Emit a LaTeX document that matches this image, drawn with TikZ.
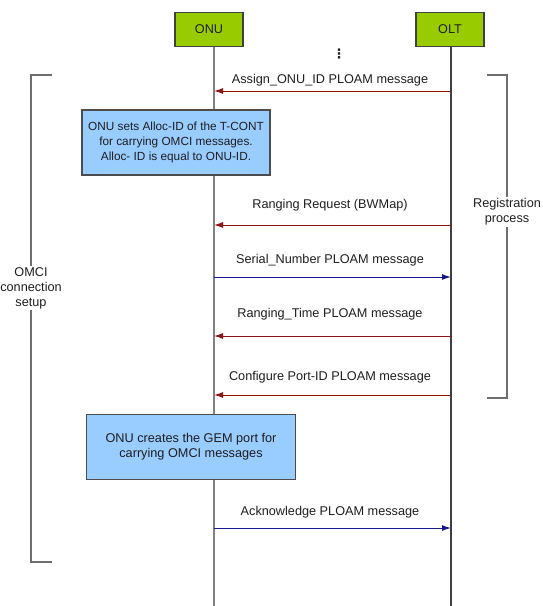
\documentclass[tikz,border=0pt]{standalone}
\usepackage{fontspec}
\setmainfont{Liberation Sans}
\newfontfamily\symfont{DejaVu Sans}
\usetikzlibrary{arrows.meta}
\definecolor{hdrgreen}{RGB}{153,204,0}
\definecolor{notebl}{RGB}{153,204,255}
\definecolor{msgred}{RGB}{140,20,20}
\definecolor{msgblue}{RGB}{25,25,140}
\definecolor{brgray}{RGB}{110,110,110}
\definecolor{txtc}{RGB}{30,30,30}
\tikzset{
  every node/.style={font=\fontsize{12.7}{15}\selectfont, text=txtc},
  hdr/.style={draw=black!75, line width=1.2pt, fill=hdrgreen, minimum width=68pt, minimum height=34pt, inner sep=0pt},
  note/.style={draw=black!70, line width=1.2pt, fill=notebl, align=center, inner sep=0pt},
  life/.style={line width=1.2pt},
  toonu/.style={draw=msgred, line width=1pt, -{Latex[length=9pt,width=6pt]}},
  toolt/.style={draw=msgblue, line width=1pt, -{Latex[length=9pt,width=6pt]}},
  msg/.style={inner sep=0pt},
  brk/.style={draw=brgray, line width=1.3pt},
  brlbl/.style={align=center, inner sep=1pt}
}
\begin{document}
\begin{tikzpicture}[x=1pt,y=-1pt]
\useasboundingbox (0,0) rectangle (543,606);
% headers
\node[hdr] (onu) at (209,29.5) {ONU};
\node[hdr] (olt) at (450,29.5) {OLT};
\coordinate (onubot) at (214,606);
\coordinate (oltbot) at (451,606);
\coordinate (onutop) at (214,46.5);
\coordinate (olttop) at (451,46.5);
\draw[life, draw=black!50] (onutop) -- (onubot);
\draw[life, draw=black!75] (olttop) -- (oltbot);
\node[inner sep=0pt] (dots) at (339,54) {\symfont\fontsize{13}{13}\selectfont\textbf{⋮}};
% message endpoints
\foreach \n/\y in {a/91,b/225,c/277,d/336,e/395,f/528}{
  \coordinate (onu\n) at (214,\y);
  \coordinate (olt\n) at (451,\y);
}
\draw[toonu] (olta) -- (onua);
\node[msg] (la) at (330,80) {Assign\_ONU\_ID PLOAM message};
\draw[toonu] (oltb) -- (onub);
\node[msg] (lb) at (330,205) {Ranging Request (BWMap)};
\draw[toolt] (onuc) -- (oltc);
\node[msg] (lc) at (330,260) {Serial\_Number PLOAM message};
\draw[toonu] (oltd) -- (onud);
\node[msg] (ld) at (330,314) {Ranging\_Time PLOAM message};
\draw[toonu] (olte) -- (onue);
\node[msg] (le) at (330,377) {Configure Port-ID PLOAM message};
\draw[toolt] (onuf) -- (oltf);
\node[msg] (lf) at (330,512) {Acknowledge PLOAM message};
% notes
\node[note, minimum width=188pt, minimum height=65pt, font=\fontsize{11.8}{15}\selectfont] (n1) at (176,142.5)
  {ONU sets Alloc-ID of the T-CONT\\for carrying OMCI messages.\\Alloc- ID is equal to ONU-ID.};
\node[note, minimum width=209pt, minimum height=65pt] (n2) at (191,447)
  {ONU creates the GEM port for\\carrying OMCI messages};
% left bracket
\node[brlbl] (omci) at (31,288) {OMCI\\connection\\setup};
\coordinate (lt) at (52,75);
\coordinate (lb2) at (52,562);
\draw[brk] (lt) -- (lt -| omci) -- (omci.north);
\draw[brk] (omci.south) -- (lb2 -| omci) -- (lb2);
% right bracket
\node[brlbl] (reg) at (507,212) {Registration\\process};
\coordinate (rt) at (487,75);
\coordinate (rb) at (487,398);
\draw[brk] (rt) -- (rt -| reg) -- (reg.north);
\draw[brk] (reg.south) -- (rb -| reg) -- (rb);
\end{tikzpicture}
\end{document}
